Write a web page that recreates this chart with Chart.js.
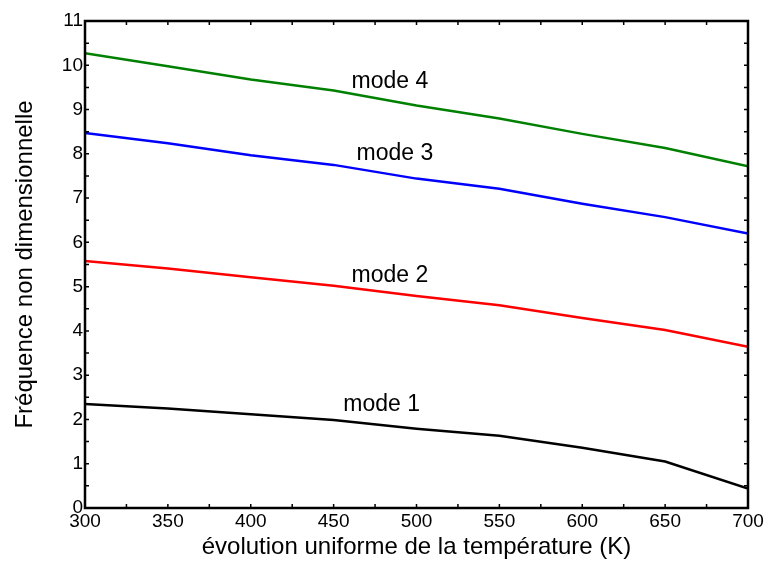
<!DOCTYPE html>
<html>
<head>
<meta charset="utf-8">
<script src="https://cdn.jsdelivr.net/npm/chart.js@4/dist/chart.umd.min.js"></script>
<style>
  body { margin: 0; background: #fff; }
  #chart { display: block; }
</style>
</head>
<body>
<canvas id="chart" width="764" height="562"></canvas>
<script>
// temperatures (K) and the four non-dimensional frequencies
const temperatures = [300, 350, 400, 450, 500, 550, 600, 650, 700];
const mode1 = [2.35, 2.25, 2.12, 1.99, 1.79, 1.63, 1.36, 1.05, 0.44];
const mode2 = [5.58, 5.41, 5.21, 5.02, 4.79, 4.58, 4.29, 4.02, 3.64];
const mode3 = [8.47, 8.24, 7.97, 7.75, 7.44, 7.21, 6.87, 6.57, 6.20];
const mode4 = [10.27, 9.98, 9.68, 9.43, 9.09, 8.80, 8.45, 8.13, 7.72];

const modeNames = ['mode 1', 'mode 2', 'mode 3', 'mode 4'];
const modeLabelX = [479, 484, 487, 484];
const modeLabelY = [2.18, 5.11, 7.86, 9.49];

const FONT = '"Liberation Sans", Arial, sans-serif';
const colors = ['#000000', '#ff0000', '#0000ff', '#008000'];
const series = [mode1, mode2, mode3, mode4];

const toPoints = values => temperatures.map((t, i) => ({ x: t, y: values[i] }));

// frame, inward ticks and curve labels
const framePlugin = {
  id: 'frame',
  afterDatasetsDraw(chart) {
    const { ctx, chartArea: a, scales: { x, y } } = chart;
    ctx.save();
    ctx.strokeStyle = '#000';
    ctx.lineWidth = 1.5;
    ctx.beginPath();
    for (let t = 300; t <= 700; t += 25) {
      const px = x.getPixelForValue(t);
      ctx.moveTo(px, a.bottom); ctx.lineTo(px, a.bottom - 4);
      ctx.moveTo(px, a.top); ctx.lineTo(px, a.top + 4);
    }
    for (let v = 0; v <= 11; v += 0.5) {
      const py = y.getPixelForValue(v);
      ctx.moveTo(a.left, py); ctx.lineTo(a.left + 4, py);
      ctx.moveTo(a.right, py); ctx.lineTo(a.right - 4, py);
    }
    ctx.stroke();

    ctx.lineWidth = 2.5;
    ctx.strokeRect(a.left, a.top, a.right - a.left, a.bottom - a.top);

    ctx.fillStyle = '#000';
    ctx.font = '23px ' + FONT;
    ctx.textAlign = 'center';
    ctx.textBaseline = 'alphabetic';
    modeNames.forEach((name, i) => {
      ctx.fillText(name, x.getPixelForValue(modeLabelX[i]), y.getPixelForValue(modeLabelY[i]));
    });
    ctx.restore();
  }
};

new Chart(document.getElementById('chart'), {
  type: 'line',
  data: {
    datasets: series.map((values, i) => ({
      label: modeNames[i],
      data: toPoints(values),
      borderColor: colors[i],
      borderWidth: 2.5,
      pointRadius: 0,
      tension: 0,
      fill: false
    }))
  },
  options: {
    responsive: false,
    animation: false,
    layout: { padding: { top: 21, right: 16, left: 11, bottom: 0 } },
    plugins: {
      legend: { display: false },
      tooltip: { enabled: false }
    },
    scales: {
      x: {
        type: 'linear',
        min: 300,
        max: 700,
        grid: { display: false, drawTicks: false },
        border: { display: false },
        ticks: {
          stepSize: 50,
          padding: 2,
          color: '#000',
          font: { family: FONT, size: 19 }
        },
        title: {
          display: true,
          text: 'évolution uniforme de la température (K)',
          color: '#000',
          font: { family: FONT, size: 24 },
          padding: { top: 5, bottom: 0 }
        },
        afterFit: scale => {
          scale.height = 54;
          scale.paddingRight = 0;
          scale.paddingLeft = 0;
        }
      },
      y: {
        min: 0,
        max: 11,
        grid: { display: false, drawTicks: false },
        border: { display: false },
        ticks: {
          stepSize: 1,
          padding: 2,
          color: '#000',
          font: { family: FONT, size: 19 }
        },
        title: {
          display: true,
          text: 'Fréquence non dimensionnelle',
          color: '#000',
          font: { family: FONT, size: 24 },
          padding: { top: 0, bottom: 4 }
        },
        afterFit: scale => { scale.width = 74; }
      }
    }
  },
  plugins: [framePlugin]
});
</script>
</body>
</html>
